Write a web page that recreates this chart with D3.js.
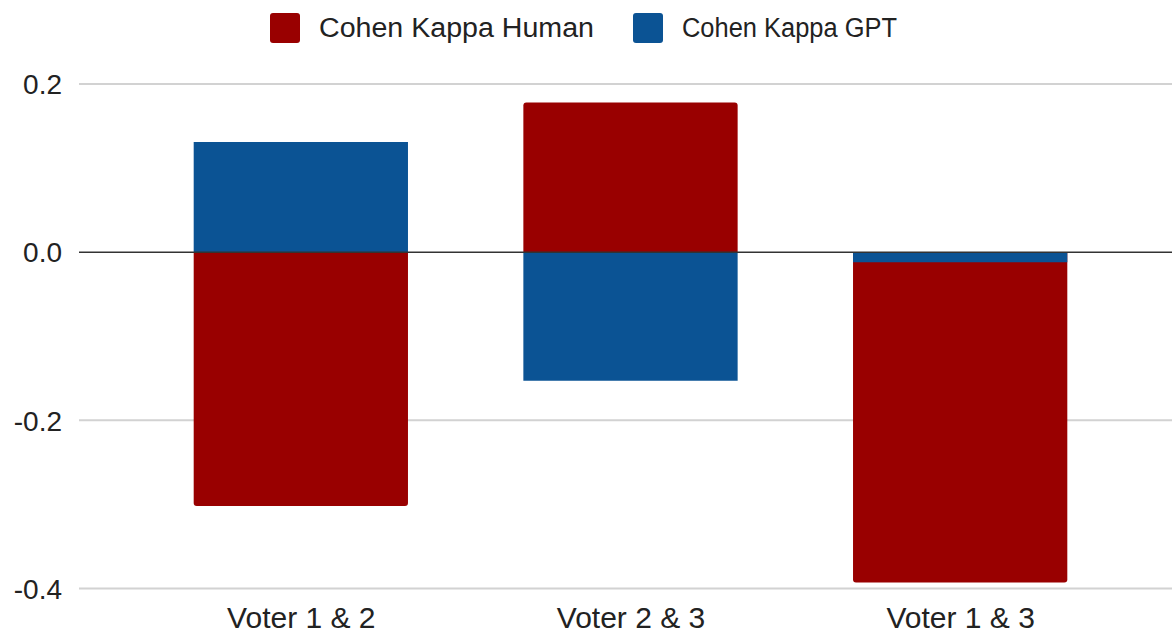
<!DOCTYPE html>
<html>
<head>
<meta charset="utf-8">
<script src="https://cdn.jsdelivr.net/npm/d3@7"></script>
<style>
  html, body { margin: 0; padding: 0; background: #fff; }
  svg { display: block; }
  text { font-family: "Liberation Sans", Arial, sans-serif; fill: #222; }
</style>
</head>
<body>
<svg id="chart" width="1172" height="632"></svg>
<script>
// Pairwise Cohen's kappa between voters
const categories = ["Voter 1 & 2", "Voter 2 & 3", "Voter 1 & 3"];
const kappaHuman = [-0.302, 0.178, -0.393];
const kappaGPT = [0.131, -0.153, -0.012];
const seriesNames = ["Cohen Kappa Human", "Cohen Kappa GPT"];
const seriesColors = ["#990000", "#0b5394"];
const yTicks = [0.2, 0.0, -0.2, -0.4];

const W = 1172, H = 632;
const svg = d3.select("#chart");

const gridLeft = 79, gridRight = 1172;
const y = d3.scaleLinear().domain([-0.4, 0.2]).range([588.5, 84]);
const x = d3.scalePoint().domain(categories).range([136, 1125]).padding(0.5);
const barW = x.step() * 0.65;

// horizontal gridlines
svg.append("g").selectAll("line")
  .data(yTicks.filter(t => t !== 0))
  .join("line")
  .attr("x1", gridLeft).attr("x2", gridRight)
  .attr("y1", d => y(d)).attr("y2", d => y(d))
  .attr("stroke", "#d2d2d2").attr("stroke-width", 2);

// y axis labels (plain hyphen for negatives)
const yAxis = d3.axisLeft(y).tickValues(yTicks).tickFormat(d => d.toFixed(1)).tickSize(0).tickPadding(0);
const yg = svg.append("g").attr("transform", "translate(62,0)").call(yAxis);
yg.select(".domain").remove();
yg.selectAll("text")
  .style("font-family", "'Liberation Sans', Arial, sans-serif")
  .style("font-size", "28px").attr("fill", "#222").attr("dy", "0.35em");

// bar path with rounded outer end
function barPath(cx, v, r) {
  const x0 = cx - barW / 2, x1 = cx + barW / 2;
  const y0 = y(0), y1 = y(v);
  const p = d3.path();
  const s = y1 < y0 ? 1 : -1; // direction from outer end toward zero
  const rr = Math.min(r, Math.abs(y1 - y0) / 2);
  p.moveTo(x0, y0);
  p.lineTo(x0, y1 + s * rr);
  p.quadraticCurveTo(x0, y1, x0 + rr, y1);
  p.lineTo(x1 - rr, y1);
  p.quadraticCurveTo(x1, y1, x1, y1 + s * rr);
  p.lineTo(x1, y0);
  p.closePath();
  return p.toString();
}

const barsData = [
  { values: kappaHuman, color: seriesColors[0], r: 3 },
  { values: kappaGPT, color: seriesColors[1], r: 0 }
];
barsData.forEach(s => {
  svg.append("g").selectAll("path")
    .data(categories)
    .join("path")
    .attr("d", (c, i) => barPath(x(c), s.values[i], s.r))
    .attr("fill", s.color);
});

// zero baseline
svg.append("line")
  .attr("x1", gridLeft).attr("x2", gridRight)
  .attr("y1", y(0)).attr("y2", y(0))
  .attr("stroke", "#333").attr("stroke-width", 1.5);

// bottom axis labels
const xAxis = d3.axisBottom(x).tickSize(0).tickPadding(0);
const xg = svg.append("g").attr("transform", "translate(0,617)").call(xAxis);
xg.select(".domain").remove();
xg.selectAll("text")
  .style("font-family", "'Liberation Sans', Arial, sans-serif")
  .style("font-size", "30px").attr("fill", "#222").attr("dy", "0.35em");

// legend
const legendX = [270, 633];
const legendTextW = [275, 215];
const lg = svg.append("g").selectAll("g")
  .data(seriesNames)
  .join("g")
  .attr("transform", (d, i) => `translate(${legendX[i]},13)`);
lg.append("rect").attr("width", 30).attr("height", 30).attr("rx", 3)
  .attr("fill", (d, i) => seriesColors[i]);
lg.append("text").attr("x", 49).attr("y", 15).attr("dy", "0.35em")
  .attr("textLength", (d, i) => legendTextW[i])
  .attr("lengthAdjust", "spacingAndGlyphs")
  .style("font-size", "27px").text(d => d);
</script>
</body>
</html>
